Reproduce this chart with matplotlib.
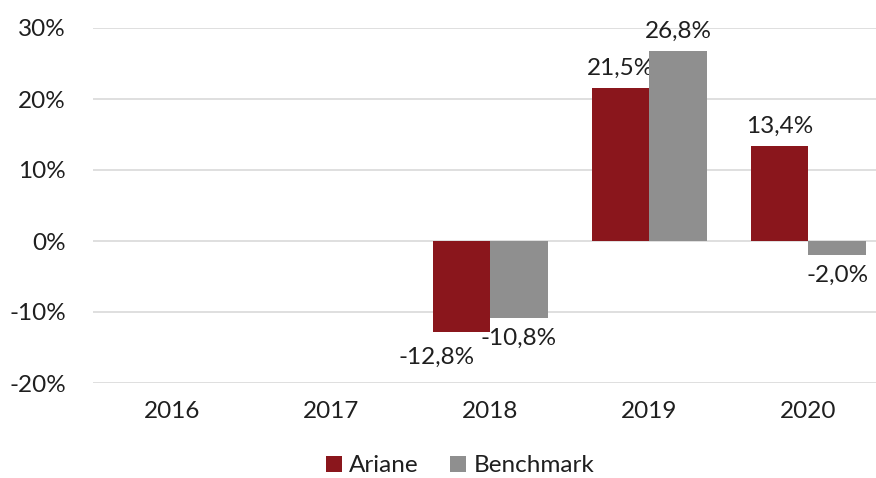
import matplotlib
matplotlib.use("Agg")
import matplotlib.pyplot as plt
import numpy as np

years = ["2016", "2017", "2018", "2019", "2020"]
ariane = [None, None, -12.8, 21.5, 13.4]
benchmark = [None, None, -10.8, 26.8, -2.0]
series_names = ["Ariane", "Benchmark"]
colors = ["#8a161c", "#8f8f8f"]
yticks = [-20, -10, 0, 10, 20, 30]

plt.rcParams['font.family'] = ['Lato', 'DejaVu Sans']
text_color = "#1f1f1f"
fs = 17.5

fig = plt.figure(figsize=(8.76, 4.78), dpi=100)
ax = fig.add_axes([92.5 / 876, 95 / 478, 795.5 / 876, 355 / 478])

x = np.arange(len(years))
w = 0.362


def fmt(v):
    return ("%.1f%%" % v).replace(".", ",")


for i, (vals, name, c) in enumerate(zip([ariane, benchmark], series_names, colors)):
    xs = [xi for xi, v in zip(x, vals) if v is not None]
    vs = [v for v in vals if v is not None]
    pos = np.array(xs) + (i - 0.5) * w
    ax.bar(pos, vs, width=w, color=c, label=name, zorder=3)
    for p, v in zip(pos, vs):
        dx, dy = 0, (6.5 if v >= 0 else -7)
        # overlapping labels in 2018: excel pushes the Ariane one aside
        if name == "Ariane" and v == -12.8:
            dx, dy = -18, -11
        ax.annotate(fmt(v), (p, v), xytext=(dx, dy), textcoords="offset points",
                    ha="center", va="bottom" if v >= 0 else "top",
                    fontsize=fs, color=text_color)

ax.set_xlim(-0.5, len(years) - 0.5)
ax.set_ylim(-20, 30)
ax.set_yticks(yticks)
ax.set_yticklabels(["%d%%" % t for t in yticks])
ax.set_xticks(x)
ax.set_xticklabels(years)
ax.tick_params(axis="both", length=0, labelsize=fs, colors=text_color)
ax.tick_params(axis="y", pad=19)
ax.tick_params(axis="x", pad=13)
ax.grid(axis="y", color="#d9d9d9", linewidth=1.2, zorder=0)
for s in ax.spines.values():
    s.set_visible(False)

fig.legend(loc="center", bbox_to_anchor=(460 / 876, 1 - 466 / 478), ncol=2,
           frameon=False, fontsize=fs, handlelength=0.65, handleheight=0.65,
           handletextpad=0.3, columnspacing=1.3, labelcolor=text_color)

fig.savefig("out.png", dpi=100)
